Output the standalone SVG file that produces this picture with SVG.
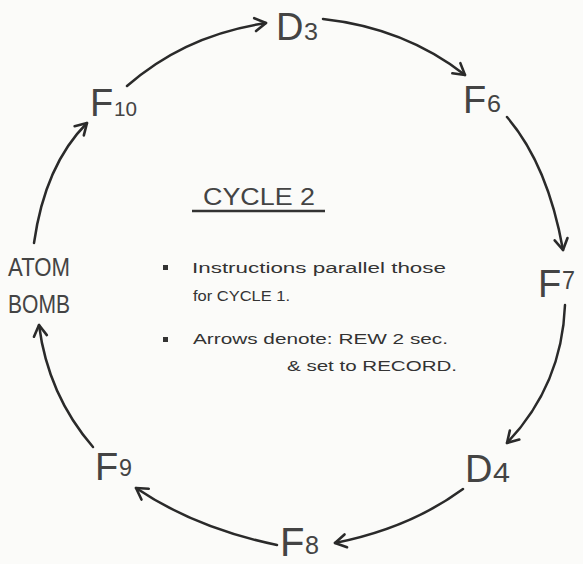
<svg xmlns="http://www.w3.org/2000/svg" width="583" height="564" viewBox="0 0 583 564">
<defs>
<marker id="ah" markerUnits="userSpaceOnUse" markerWidth="20" markerHeight="20" refX="0" refY="0" viewBox="-14 -10 16 20" orient="auto">
<path d="M-11,-6.5 L0,0 L-11,6.5" fill="none" stroke="#2a2a2a" stroke-width="2.6" stroke-linecap="round" stroke-linejoin="round"/>
</marker>
<style>
.lbl{font-family:"Liberation Sans","DejaVu Sans",sans-serif;fill:#444;}
.note{font-family:"Liberation Sans","DejaVu Sans",sans-serif;fill:#333;font-size:14px;}
.edge{fill:none;stroke:#2a2a2a;stroke-width:2.5;stroke-linecap:round;marker-end:url(#ah);}
</style>
</defs>
<rect width="583" height="564" fill="#fbfbf9"/>
<g id="connectors">
<path class="edge" d="M127,86 Q185,35 266,23"/>
<path class="edge" d="M323,19 Q405,28 465,75"/>
<path class="edge" d="M507,117 Q548,165 563,250"/>
<path class="edge" d="M565,305 Q562,385 507,443"/>
<path class="edge" d="M463,489 Q410,528 335,543"/>
<path class="edge" d="M277,545 Q195,528 136,488"/>
<path class="edge" d="M93,447 Q48,395 39,325"/>
<path class="edge" d="M34,243 Q45,165 87,123"/>
</g>
<g id="D3">
<text class="lbl" x="276" y="40" font-size="38">D</text>
<text class="lbl" x="304" y="40" font-size="23" textLength="14" lengthAdjust="spacingAndGlyphs">3</text>
</g>
<g id="F6">
<text class="lbl" x="463" y="113" font-size="38">F</text>
<text class="lbl" x="487" y="112" font-size="23" textLength="14" lengthAdjust="spacingAndGlyphs">6</text>
</g>
<g id="F7">
<text class="lbl" x="538" y="297" font-size="38">F</text>
<text class="lbl" x="562" y="289" font-size="26" textLength="13" lengthAdjust="spacingAndGlyphs">7</text>
</g>
<g id="D4">
<text class="lbl" x="465" y="482" font-size="38">D</text>
<text class="lbl" x="493" y="482" font-size="27" textLength="17" lengthAdjust="spacingAndGlyphs">4</text>
</g>
<g id="F8">
<text class="lbl" x="280" y="556" font-size="40">F</text>
<text class="lbl" x="305" y="554" font-size="26" textLength="14" lengthAdjust="spacingAndGlyphs">8</text>
</g>
<g id="F9">
<text class="lbl" x="95" y="480" font-size="38">F</text>
<text class="lbl" x="119" y="476" font-size="24" textLength="13" lengthAdjust="spacingAndGlyphs">9</text>
</g>
<g id="F10">
<text class="lbl" x="90" y="116" font-size="38">F</text>
<text class="lbl" x="114" y="116" font-size="21" textLength="23" lengthAdjust="spacingAndGlyphs">10</text>
</g>
<g id="ATOM_BOMB">
<text class="lbl" x="8" y="276" font-size="25" textLength="62" lengthAdjust="spacingAndGlyphs">ATOM</text>
<text class="lbl" x="8" y="313" font-size="25" textLength="62" lengthAdjust="spacingAndGlyphs">BOMB</text>
</g>
<g id="title">
<text class="lbl" x="203" y="205" font-size="24" textLength="112" lengthAdjust="spacingAndGlyphs">CYCLE 2</text>
<line x1="192" y1="211" x2="325" y2="211" stroke="#333" stroke-width="2.5"/>
</g>
<g id="notes">
<rect x="163" y="265" width="5" height="5" fill="#333"/>
<text class="note" x="192" y="273" textLength="254" lengthAdjust="spacingAndGlyphs">Instructions parallel those</text>
<text class="note" x="193" y="301" textLength="97" lengthAdjust="spacingAndGlyphs">for CYCLE 1.</text>
<rect x="163" y="337" width="5" height="5" fill="#333"/>
<text class="note" x="193" y="344" textLength="255" lengthAdjust="spacingAndGlyphs">Arrows denote: REW 2 sec.</text>
<text class="note" x="287" y="371" textLength="170" lengthAdjust="spacingAndGlyphs">&amp; set to RECORD.</text>
</g>
</svg>
